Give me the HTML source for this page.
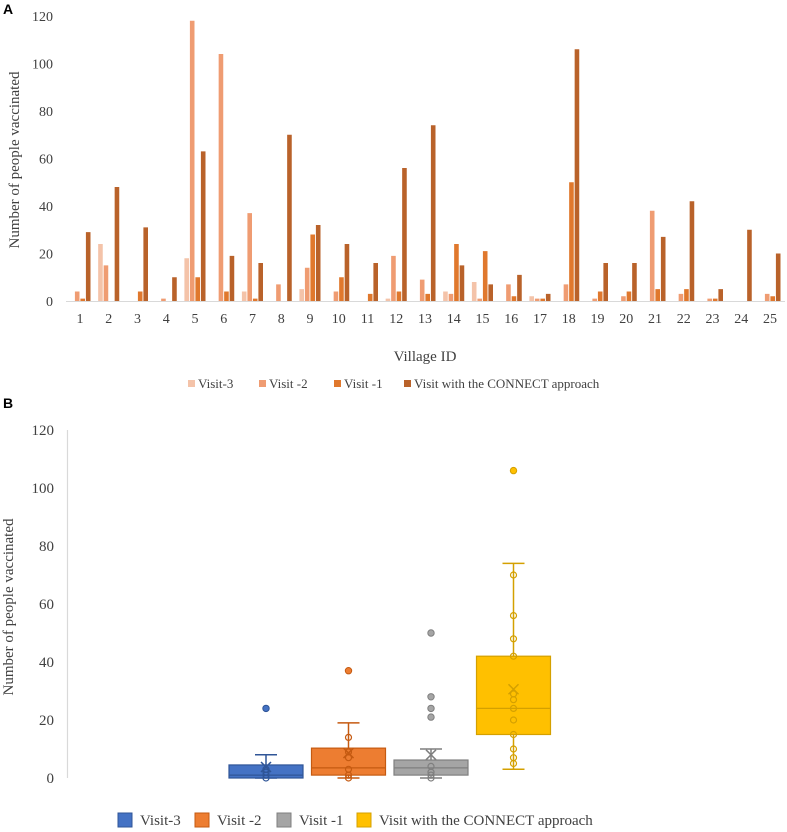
<!DOCTYPE html>
<html><head><meta charset="utf-8">
<style>
body{margin:0;background:#fff;}
svg{display:block;font-family:"Liberation Serif",serif;}
</style></head>
<body>
<svg id="chart" width="787" height="832" viewBox="0 0 787 832"></svg>
<script>
// ---- Panel A data ----
const villages = ["1","2","3","4","5","6","7","8","9","10","11","12","13","14","15","16","17","18","19","20","21","22","23","24","25"];
const visit3 = [0,24,0,0,18,0,4,0,5,0,0,1,0,4,8,0,2,0,0,0,0,0,0,0,0];
const visit2 = [4,15,0,1,118,104,37,7,14,4,0,19,9,3,1,7,1,7,1,2,38,3,1,0,3];
const visit1 = [1,0,4,0,10,4,1,0,28,10,3,4,3,24,21,2,1,50,4,4,5,5,1,0,2];
const connect = [29,48,31,10,63,19,16,70,32,24,16,56,74,15,7,11,3,106,16,16,27,42,5,30,20];
const yTicksA = [0,20,40,60,80,100,120];
// ---- Panel B data ----
const boxNames = ["Visit-3","Visit -2","Visit -1","Visit with the CONNECT approach"];
const boxMin = [0,0,0,3];
const boxQ1 = [0,1,1,15];
const boxMedian = [1,3.5,3.5,24];
const boxQ3 = [4.5,10.3,6.2,42];
const boxMax = [8,19,10,74];
const boxMean = [3.8,8.6,8,30.6];
const boxOutliers = [[24],[37],[50,28,24,21],[106]];
const boxInner = [[0,1,2,3],[0,1,3,7,9,14],[0,1,2,4],[70,56,48,42,29,27,24,20,15,10,7,5]];
const yTicksB = [0,20,40,60,80,100,120];

const NS="http://www.w3.org/2000/svg";
const svg=document.getElementById('chart');
function mk(tag,attrs,parent){const e=document.createElementNS(NS,tag);for(const k in attrs)e.setAttribute(k,attrs[k]);(parent||svg).appendChild(e);return e;}
function txt(s,attrs,parent){const e=mk('text',attrs,parent);e.textContent=s;return e;}

// ---- Panel A ----
const yA=v=>301-v*(285/120);
const xA=i=>80+i*28.75;
const gA=mk('g',{});


const lblA=txt('A',{x:3,y:14,'font-family':'Liberation Sans,sans-serif','font-weight':'bold','font-size':14,fill:'#000'},gA);


yTicksA.forEach(t=>{const e=txt(String(t),{x:53,y:yA(t)+5,'text-anchor':'end','font-size':14,fill:'#404040'},gA);

});
const ytA=txt('Number of people vaccinated',{x:0,y:0,transform:'translate(19,160) rotate(-90)','text-anchor':'middle','font-size':15,fill:'#404040'},gA);


const axA=mk('line',{x1:66,x2:785,y1:301.5,y2:301.5,stroke:'#d9d9d9','stroke-width':1},gA);


const seriesA=[visit3,visit2,visit1,connect];
const colorsA=['#f4c3a9','#ef9c72','#e0782d','#b9622a'];
const namesA=['visit-3','visit-2','visit-1','connect'];
const bw=4.6,step=5.5;
villages.forEach((v,i)=>{
  seriesA.forEach((s,k)=>{
    const val=s[i]; const x=xA(i)-2*step+k*step+0.4;
    const r=mk('rect',{x:x,y:yA(val),width:bw,height:301-yA(val),fill:colorsA[k]},gA);
    
    
  });
  const e=txt(v,{x:xA(i),y:323,'text-anchor':'middle','font-size':14,fill:'#404040'},gA);
  
  
});
const xtA=txt('Village ID',{x:425,y:361,'text-anchor':'middle','font-size':15,fill:'#404040'},gA);


const legA=[[188,'Visit-3'],[259,'Visit -2'],[334,'Visit -1'],[404,'Visit with the CONNECT approach']];
legA.forEach((l,k)=>{
  const g=mk('g',{},gA);
  
  
  mk('rect',{x:l[0],y:380,width:7,height:7,fill:colorsA[k]},g);
  txt(l[1],{x:l[0]+10,y:388,'font-size':13,fill:'#404040'},g);
});

// ---- Panel B ----
const yB=v=>778-v*(348/120);
const xB=i=>266+i*82.5;
const gB=mk('g',{});


const lblB=txt('B',{x:3,y:408,'font-family':'Liberation Sans,sans-serif','font-weight':'bold','font-size':14,fill:'#000'},gB);


yTicksB.forEach(t=>{const e=txt(String(t),{x:54,y:yB(t)+5,'text-anchor':'end','font-size':15,fill:'#404040'},gB);

});
const ytB=txt('Number of people vaccinated',{x:0,y:0,transform:'translate(13,607) rotate(-90)','text-anchor':'middle','font-size':15,fill:'#404040'},gB);


const axB=mk('line',{x1:67.5,x2:67.5,y1:430,y2:778,stroke:'#d9d9d9','stroke-width':1.2},gB);


const fillB=['#4472c4','#ed7d31','#a5a5a5','#ffc000'];
const strokeB=['#2f5597','#c55a11','#7f7f7f','#d4a000'];
const hw=37;
boxNames.forEach((n,i)=>{
  const cx=xB(i), c=strokeB[i];
  const g=mk('g',{},gB);
  
  
  mk('line',{x1:cx,x2:cx,y1:yB(boxMax[i]),y2:yB(boxQ3[i]),stroke:c,'stroke-width':1.5},g);
  mk('line',{x1:cx,x2:cx,y1:yB(boxQ1[i]),y2:yB(boxMin[i]),stroke:c,'stroke-width':1.5},g);
  mk('line',{x1:cx-11,x2:cx+11,y1:yB(boxMax[i]),y2:yB(boxMax[i]),stroke:c,'stroke-width':1.5},g);
  mk('line',{x1:cx-11,x2:cx+11,y1:yB(boxMin[i]),y2:yB(boxMin[i]),stroke:c,'stroke-width':1.5},g);
  mk('rect',{x:cx-hw,y:yB(boxQ3[i]),width:2*hw,height:yB(boxQ1[i])-yB(boxQ3[i]),fill:fillB[i],stroke:c,'stroke-width':1.2},g);
  mk('line',{x1:cx-hw,x2:cx+hw,y1:yB(boxMedian[i]),y2:yB(boxMedian[i]),stroke:c,'stroke-width':1.2},g);
  boxInner[i].forEach(v=>mk('circle',{cx:cx,cy:yB(v),r:3,fill:'none',stroke:c,'stroke-width':1.2},g));
  const my=yB(boxMean[i]);
  mk('path',{d:`M${cx-5} ${my-5}L${cx+5} ${my+5}M${cx+5} ${my-5}L${cx-5} ${my+5}`,stroke:c,'stroke-width':1.5},g);
  boxOutliers[i].forEach(v=>{const o=mk('circle',{cx:cx,cy:yB(v),r:3.2,fill:fillB[i],stroke:c,'stroke-width':1},g);
  
  });
});
const legB=[[118,'Visit-3'],[195,'Visit -2'],[277,'Visit -1'],[357,'Visit with the CONNECT approach']];
legB.forEach((l,k)=>{
  const g=mk('g',{},gB);
  
  
  mk('rect',{x:l[0],y:813,width:14,height:14,fill:fillB[k],stroke:strokeB[k],'stroke-width':1},g);
  txt(l[1],{x:l[0]+22,y:825,'font-size':15,fill:'#404040'},g);
});
</script>
</body></html>
